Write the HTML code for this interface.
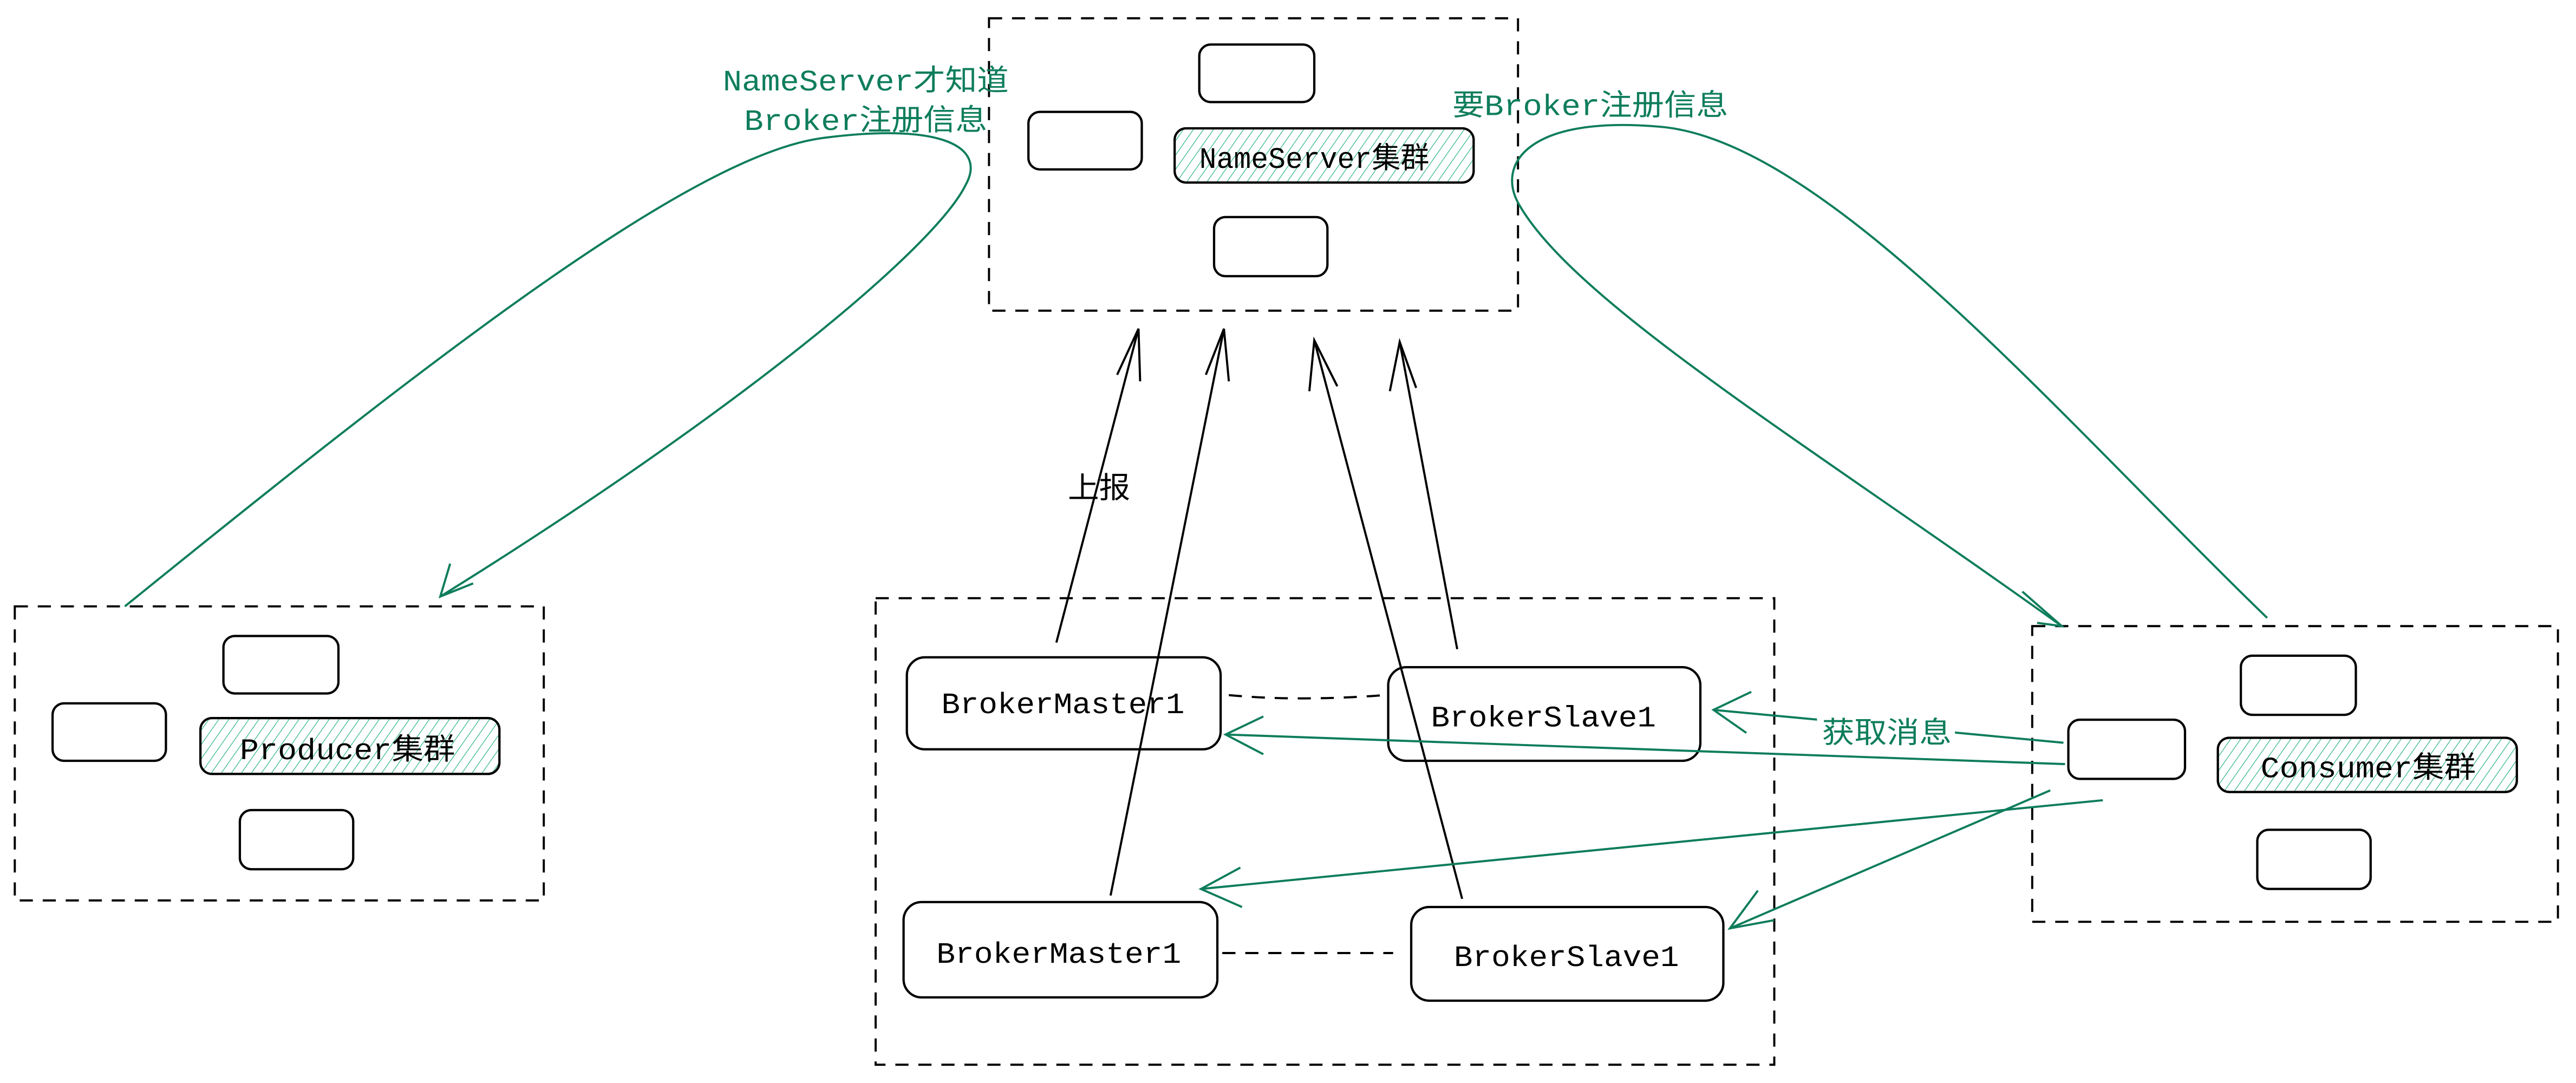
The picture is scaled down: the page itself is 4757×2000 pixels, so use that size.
<!DOCTYPE html>
<html><head><meta charset="utf-8">
<style>
html,body{margin:0;padding:0;background:#fff;}
svg{display:block;}
text{font-family:"Liberation Mono","Noto Sans CJK SC",monospace;}
</style></head>
<body>
<svg width="4757" height="2000" viewBox="0 0 1568 659" xmlns="http://www.w3.org/2000/svg">
<defs>
<pattern id="h" patternUnits="userSpaceOnUse" width="5" height="5" patternTransform="rotate(35)">
<line x1="0" y1="0" x2="0" y2="5" stroke="#2bb38a" stroke-width="0.8"/>
</pattern>
</defs>
<g fill="none" stroke="#000" stroke-width="1.3" stroke-dasharray="8 6">
<rect x="602" y="11" width="322" height="178"/>
<rect x="9" y="369" width="322" height="179"/>
<rect x="1237" y="381" width="320" height="180"/>
<rect x="533" y="364" width="547" height="284"/>
<path d="M748 423 Q790 427 843 423"/>
<path d="M744 580 L848 580"/>
</g>
<g fill="#fff" stroke="#000" stroke-width="1.4">
<rect x="730" y="27" width="70" height="35" rx="7"/>
<rect x="626" y="68" width="69" height="35" rx="7"/>
<rect x="739" y="132" width="69" height="36" rx="7"/>
<rect x="136" y="387" width="70" height="35" rx="7"/>
<rect x="32" y="428" width="69" height="35" rx="7"/>
<rect x="146" y="493" width="69" height="36" rx="7"/>
<rect x="1364" y="399" width="70" height="36" rx="7"/>
<rect x="1259" y="438" width="71" height="36" rx="7"/>
<rect x="1374" y="505" width="69" height="36" rx="7"/>
<rect x="552" y="400" width="191" height="56" rx="11"/>
<rect x="845" y="406" width="190" height="57" rx="11"/>
<rect x="550" y="549" width="191" height="58" rx="11"/>
<rect x="859" y="552" width="190" height="57" rx="11"/>
</g>
<g stroke="#000" stroke-width="1.4">
<rect x="715" y="78" width="182" height="33" rx="7" fill="url(#h)"/>
<rect x="122" y="437" width="182" height="34" rx="7" fill="url(#h)"/>
<rect x="1350" y="449" width="182" height="33" rx="7" fill="url(#h)"/>
</g>
<g font-size="18" fill="#000">
<text x="730" y="102" textLength="140" lengthAdjust="spacingAndGlyphs">NameServer集群</text>
<text x="146" y="462" textLength="131" lengthAdjust="spacingAndGlyphs">Producer集群</text>
<text x="1376" y="473" textLength="131" lengthAdjust="spacingAndGlyphs">Consumer集群</text>
<text x="573" y="434" textLength="148" lengthAdjust="spacingAndGlyphs">BrokerMaster1</text>
<text x="871" y="442" textLength="137" lengthAdjust="spacingAndGlyphs">BrokerSlave1</text>
<text x="570" y="586" textLength="149" lengthAdjust="spacingAndGlyphs">BrokerMaster1</text>
<text x="885" y="588" textLength="137" lengthAdjust="spacingAndGlyphs">BrokerSlave1</text>
<text x="650" y="303" textLength="38" lengthAdjust="spacingAndGlyphs">上报</text>
</g>
<g stroke="#000" stroke-width="1.3" fill="none">
<path d="M643 391 L693 200"/><path d="M680 228 L693 200 L694 232"/>
<path d="M676 545 L745 200"/><path d="M734 228 L745 200 L748 232"/>
<path d="M890 547 L800 207"/><path d="M797 238 L800 207 L814 235"/>
<path d="M887 395 L852 208"/><path d="M846 238 L852 208 L862 236"/>
</g>
<g stroke="#0e7d5c" stroke-width="1.3" fill="none">
<path d="M76 369 C260 220 420 95 500 84 C575 74 600 90 588 112 C570 150 450 250 268 363"/>
<path d="M274 343 L268 363 L288 355"/>
<path d="M1380 376 C1250 250 1110 85 1010 77 C930 70 910 100 925 125 C960 185 1100 270 1255 381"/>
<path d="M1231 360 L1255 381 L1240 379"/>
<path d="M1257 465 L746 447"/><path d="M769 436 L746 447 L769 459"/>
<path d="M1256 452 L1043 432"/><path d="M1066 421 L1043 432 L1063 446"/>
<path d="M1280 487 L731 541"/><path d="M755 528 L731 541 L756 552"/>
<path d="M1248 481 L1053 565"/><path d="M1070 542 L1053 565 L1080 560"/>
</g>
<rect x="1106" y="436" width="84" height="20" fill="#fff"/>
<g font-size="18" fill="#0e7d5c">
<text x="440" y="55" textLength="174" lengthAdjust="spacingAndGlyphs">NameServer才知道</text>
<text x="453" y="79" textLength="148" lengthAdjust="spacingAndGlyphs">Broker注册信息</text>
<text x="884" y="70" textLength="168" lengthAdjust="spacingAndGlyphs">要Broker注册信息</text>
<text x="1109" y="452" textLength="79" lengthAdjust="spacingAndGlyphs">获取消息</text>
</g>
</svg>
</body></html>
